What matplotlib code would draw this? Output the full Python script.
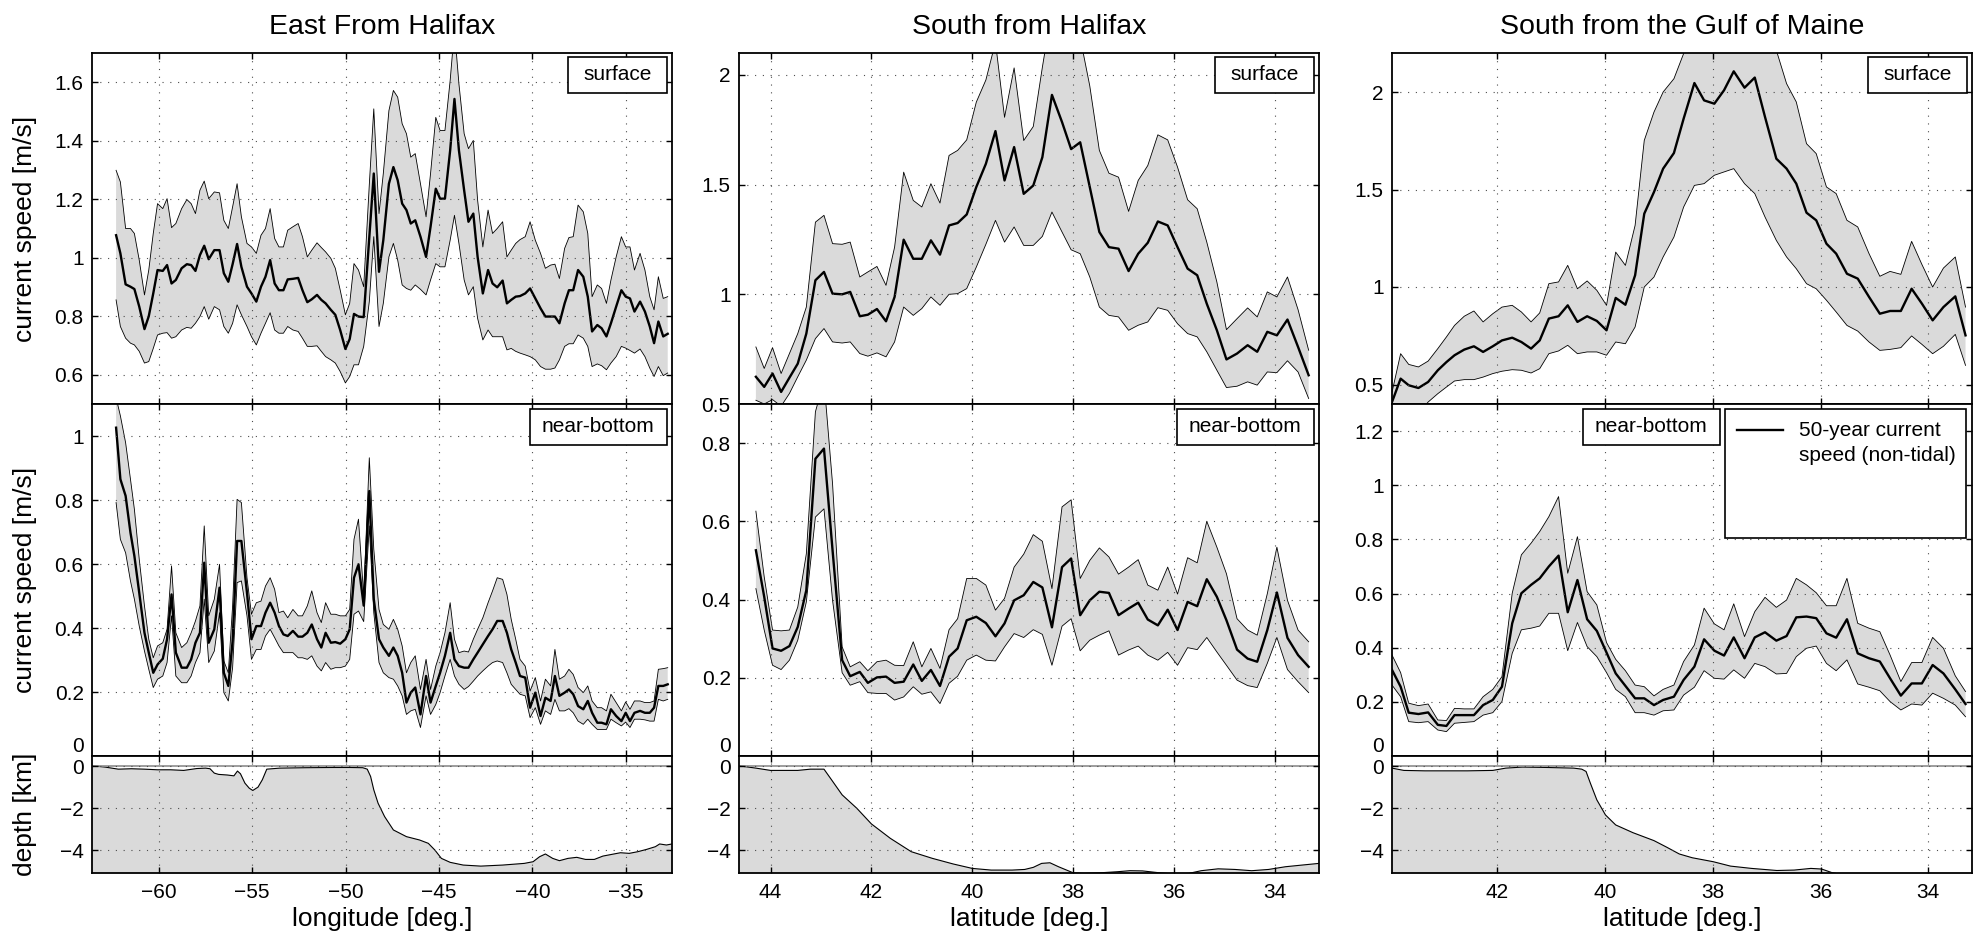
import matplotlib
matplotlib.use("Agg")
import matplotlib.pyplot as plt
from matplotlib.patches import Rectangle
from matplotlib.lines import Line2D

plt.rcParams['font.family'] = ['Liberation Sans', 'DejaVu Sans']
plt.rcParams['axes.unicode_minus'] = True

# ---------------------------------------------------------------- East from Halifax
lon_east = [
    -62.29, -62.06, -61.78, -61.52, -61.31, -61.05, -60.77, -60.54, -60.30, -60.07,
    -59.79, -59.56, -59.32, -59.09, -58.78, -58.50, -58.27, -58.04, -57.80, -57.57,
    -57.33, -57.03, -56.75, -56.52, -56.28, -56.05, -55.81, -55.58, -55.28, -55.04,
    -54.78, -54.53, -54.29, -54.04, -53.80, -53.57, -53.33, -53.10, -52.82, -52.54,
    -52.31, -52.05, -51.81, -51.53, -51.30, -51.07, -50.79, -50.55, -50.29, -50.01,
    -49.78, -49.55, -49.31, -49.03, -48.73, -48.49, -48.21, -47.98, -47.68, -47.44,
    -47.21, -46.97, -46.74, -46.51, -46.27, -45.99, -45.69, -45.45, -45.17, -44.94,
    -44.68, -44.40, -44.17, -43.93, -43.65, -43.42, -43.16, -42.93, -42.65, -42.37,
    -42.13, -41.88, -41.59, -41.36, -41.13, -40.89, -40.66, -40.38, -40.12, -39.84,
    -39.56, -39.30, -39.02, -38.79, -38.55, -38.27, -38.04, -37.81, -37.55, -37.27,
    -37.03, -36.80, -36.52, -36.29, -36.03, -35.79, -35.51, -35.23, -35.00, -34.77,
    -34.53, -34.23, -33.97, -33.71, -33.48, -33.25, -32.99, -32.75]

east_surf_mean = [
    1.077, 1.015, 0.909, 0.901, 0.893, 0.833, 0.756, 0.800, 0.878, 0.958,
    0.955, 0.975, 0.912, 0.924, 0.964, 0.978, 0.975, 0.955, 1.009, 1.041,
    0.995, 1.026, 1.026, 0.947, 0.918, 0.978, 1.047, 0.969, 0.901, 0.878,
    0.850, 0.901, 0.935, 0.992, 0.912, 0.889, 0.889, 0.926, 0.928, 0.931,
    0.889, 0.848, 0.858, 0.873, 0.856, 0.844, 0.822, 0.805, 0.753, 0.688,
    0.722, 0.808, 0.799, 0.797, 1.070, 1.288, 0.952, 1.060, 1.253, 1.310,
    1.265, 1.185, 1.163, 1.117, 1.128, 1.072, 1.003, 1.106, 1.236, 1.202,
    1.202, 1.367, 1.543, 1.367, 1.230, 1.123, 1.151, 1.003, 0.878, 0.958,
    0.912, 0.899, 0.922, 0.844, 0.856, 0.867, 0.869, 0.878, 0.895, 0.861,
    0.827, 0.799, 0.799, 0.799, 0.776, 0.844, 0.889, 0.889, 0.958, 0.935,
    0.867, 0.748, 0.770, 0.759, 0.731, 0.776, 0.833, 0.889, 0.867, 0.861,
    0.816, 0.850, 0.816, 0.765, 0.708, 0.782, 0.731, 0.740]
east_surf_hi = [
    1.299, 1.259, 1.100, 1.100, 1.083, 0.992, 0.873, 0.958, 1.083, 1.185,
    1.168, 1.202, 1.103, 1.117, 1.168, 1.199, 1.185, 1.151, 1.231, 1.262,
    1.202, 1.225, 1.222, 1.128, 1.100, 1.174, 1.253, 1.140, 1.049, 1.037,
    1.015, 1.077, 1.100, 1.168, 1.066, 1.037, 1.037, 1.094, 1.106, 1.117,
    1.072, 1.003, 1.026, 1.051, 1.035, 1.020, 0.998, 0.964, 0.890, 0.805,
    0.844, 0.980, 0.958, 0.901, 1.250, 1.509, 1.151, 1.288, 1.503, 1.572,
    1.549, 1.458, 1.424, 1.344, 1.356, 1.253, 1.140, 1.288, 1.480, 1.435,
    1.435, 1.606, 1.780, 1.594, 1.424, 1.373, 1.401, 1.197, 1.037, 1.163,
    1.083, 1.100, 1.123, 1.003, 1.026, 1.049, 1.062, 1.072, 1.123, 1.060,
    1.015, 0.964, 0.975, 0.978, 0.929, 1.032, 1.069, 1.072, 1.180, 1.157,
    1.083, 0.867, 0.907, 0.895, 0.844, 0.924, 1.003, 1.072, 1.037, 1.037,
    0.958, 1.015, 0.958, 0.867, 0.822, 0.935, 0.861, 0.867]
east_surf_lo = [
    0.856, 0.765, 0.725, 0.708, 0.702, 0.680, 0.640, 0.645, 0.690, 0.736,
    0.742, 0.744, 0.725, 0.730, 0.753, 0.762, 0.759, 0.776, 0.799, 0.833,
    0.790, 0.833, 0.822, 0.765, 0.742, 0.776, 0.839, 0.805, 0.765, 0.730,
    0.702, 0.742, 0.776, 0.812, 0.753, 0.742, 0.742, 0.765, 0.753, 0.748,
    0.725, 0.697, 0.697, 0.699, 0.680, 0.662, 0.651, 0.640, 0.611, 0.572,
    0.594, 0.634, 0.634, 0.697, 0.850, 1.072, 0.765, 0.844, 1.003, 1.049,
    0.992, 0.907, 0.895, 0.889, 0.907, 0.892, 0.873, 0.924, 0.980, 0.969,
    0.969, 1.060, 1.145, 1.049, 0.924, 0.873, 0.901, 0.793, 0.719, 0.753,
    0.730, 0.730, 0.730, 0.685, 0.690, 0.680, 0.674, 0.668, 0.662, 0.651,
    0.628, 0.619, 0.619, 0.623, 0.651, 0.697, 0.706, 0.706, 0.736, 0.725,
    0.697, 0.628, 0.637, 0.631, 0.617, 0.640, 0.662, 0.697, 0.691, 0.683,
    0.674, 0.688, 0.662, 0.623, 0.594, 0.628, 0.597, 0.606]

east_bot_mean = [
    1.026, 0.865, 0.813, 0.698, 0.625, 0.510, 0.385, 0.323, 0.260, 0.286,
    0.304, 0.365, 0.505, 0.323, 0.276, 0.276, 0.302, 0.354, 0.385, 0.604,
    0.354, 0.396, 0.526, 0.260, 0.219, 0.359, 0.672, 0.672, 0.510, 0.365,
    0.406, 0.406, 0.448, 0.479, 0.448, 0.406, 0.380, 0.375, 0.391, 0.373,
    0.373, 0.385, 0.411, 0.365, 0.339, 0.385, 0.354, 0.356, 0.351, 0.365,
    0.396, 0.557, 0.599, 0.470, 0.828, 0.490, 0.365, 0.339, 0.313, 0.339,
    0.313, 0.260, 0.167, 0.198, 0.214, 0.130, 0.250, 0.167, 0.219, 0.260,
    0.313, 0.385, 0.302, 0.281, 0.276, 0.276, 0.302, 0.323, 0.349, 0.375,
    0.396, 0.422, 0.422, 0.385, 0.333, 0.292, 0.250, 0.245, 0.151, 0.198,
    0.125, 0.182, 0.172, 0.250, 0.188, 0.198, 0.208, 0.193, 0.156, 0.146,
    0.172, 0.135, 0.104, 0.104, 0.099, 0.146, 0.125, 0.109, 0.135, 0.109,
    0.135, 0.141, 0.135, 0.135, 0.151, 0.219, 0.219, 0.224]
east_bot_hi = [
    1.120, 1.063, 0.979, 0.865, 0.771, 0.615, 0.469, 0.365, 0.307, 0.344,
    0.354, 0.396, 0.594, 0.385, 0.339, 0.354, 0.385, 0.422, 0.469, 0.719,
    0.438, 0.490, 0.599, 0.297, 0.260, 0.469, 0.802, 0.792, 0.557, 0.443,
    0.479, 0.484, 0.531, 0.557, 0.521, 0.448, 0.453, 0.432, 0.458, 0.438,
    0.438, 0.469, 0.516, 0.448, 0.417, 0.479, 0.443, 0.443, 0.438, 0.438,
    0.458, 0.677, 0.740, 0.500, 0.932, 0.646, 0.458, 0.411, 0.396, 0.427,
    0.396, 0.344, 0.260, 0.292, 0.313, 0.208, 0.302, 0.208, 0.281, 0.323,
    0.385, 0.479, 0.365, 0.323, 0.328, 0.325, 0.365, 0.396, 0.432, 0.479,
    0.516, 0.557, 0.552, 0.505, 0.427, 0.365, 0.302, 0.281, 0.203, 0.245,
    0.172, 0.240, 0.219, 0.333, 0.240, 0.250, 0.271, 0.255, 0.214, 0.198,
    0.219, 0.172, 0.151, 0.151, 0.141, 0.193, 0.167, 0.141, 0.169, 0.146,
    0.172, 0.172, 0.167, 0.167, 0.172, 0.271, 0.273, 0.276]
east_bot_lo = [
    0.792, 0.677, 0.635, 0.547, 0.490, 0.406, 0.328, 0.271, 0.214, 0.240,
    0.250, 0.292, 0.438, 0.250, 0.229, 0.229, 0.250, 0.292, 0.323, 0.490,
    0.292, 0.328, 0.448, 0.198, 0.172, 0.276, 0.542, 0.547, 0.438, 0.302,
    0.333, 0.333, 0.375, 0.396, 0.370, 0.344, 0.323, 0.323, 0.323, 0.307,
    0.307, 0.302, 0.313, 0.281, 0.266, 0.292, 0.271, 0.276, 0.276, 0.281,
    0.302, 0.443, 0.453, 0.420, 0.719, 0.448, 0.292, 0.260, 0.245, 0.240,
    0.219, 0.188, 0.130, 0.141, 0.146, 0.089, 0.188, 0.130, 0.161, 0.198,
    0.250, 0.302, 0.250, 0.224, 0.208, 0.217, 0.234, 0.250, 0.266, 0.281,
    0.292, 0.297, 0.292, 0.260, 0.224, 0.208, 0.193, 0.188, 0.120, 0.151,
    0.099, 0.141, 0.130, 0.177, 0.141, 0.141, 0.148, 0.135, 0.109, 0.099,
    0.115, 0.099, 0.083, 0.083, 0.083, 0.115, 0.104, 0.094, 0.106, 0.089,
    0.115, 0.115, 0.113, 0.109, 0.109, 0.177, 0.172, 0.177]

lon_east_topo = [
    -63.58, -62.88, -62.17, -61.47, -60.77, -60.07, -59.37, -58.67, -57.97, -57.50,
    -57.26, -57.03, -56.80, -56.33, -55.98, -55.79, -55.63, -55.39, -55.16, -54.97,
    -54.69, -54.46, -54.22, -53.52, -52.12, -50.72, -49.78, -49.08, -48.84, -48.66,
    -48.49, -48.26, -47.91, -47.44, -46.74, -46.04, -45.57, -45.22, -44.87, -44.40,
    -43.70, -42.76, -41.59, -40.43, -39.96, -39.61, -39.30, -38.91, -38.55, -38.09,
    -37.62, -37.15, -36.68, -36.22, -35.75, -35.28, -34.81, -34.35, -33.88, -33.41,
    -33.18, -32.82, -32.52]
east_depth = [
    0.03, -0.03, -0.13, -0.11, -0.13, -0.16, -0.16, -0.19, -0.10, -0.08,
    -0.11, -0.32, -0.38, -0.41, -0.45, -0.22, -0.35, -0.80, -1.04, -1.15,
    -0.99, -0.64, -0.13, -0.08, -0.06, -0.05, -0.05, -0.06, -0.13, -0.48,
    -1.12, -1.76, -2.40, -3.04, -3.36, -3.52, -3.68, -4.00, -4.40, -4.59,
    -4.72, -4.77, -4.72, -4.64, -4.56, -4.32, -4.19, -4.40, -4.51, -4.40,
    -4.35, -4.45, -4.45, -4.29, -4.21, -4.13, -4.16, -4.08, -3.97, -3.84,
    -3.71, -3.76, -3.71]

# ---------------------------------------------------------------- South from Halifax
lat_hfx = [
    44.29, 44.125, 43.96, 43.79, 43.625, 43.46, 43.29, 43.11, 42.94, 42.77,
    42.58, 42.42, 42.23, 42.07, 41.89, 41.71, 41.54, 41.36, 41.17, 41.00,
    40.82, 40.64, 40.46, 40.29, 40.11, 39.92, 39.73, 39.54, 39.36, 39.17,
    38.98, 38.79, 38.61, 38.42, 38.22, 38.04, 37.86, 37.67, 37.48, 37.29,
    37.10, 36.90, 36.71, 36.52, 36.32, 36.125, 35.93, 35.73, 35.54, 35.35,
    35.15, 34.96, 34.75, 34.54, 34.35, 34.15, 33.96, 33.75, 33.54, 33.33]

hfx_surf_mean = [
    0.624, 0.578, 0.639, 0.555, 0.620, 0.684, 0.821, 1.064, 1.102, 1.003,
    1.000, 1.011, 0.900, 0.907, 0.933, 0.877, 0.988, 1.249, 1.162, 1.162,
    1.246, 1.181, 1.314, 1.325, 1.364, 1.489, 1.595, 1.744, 1.519, 1.671,
    1.458, 1.496, 1.625, 1.909, 1.785, 1.662, 1.693, 1.489, 1.284, 1.215,
    1.208, 1.106, 1.185, 1.235, 1.332, 1.314, 1.215, 1.117, 1.087, 0.957,
    0.836, 0.703, 0.730, 0.768, 0.738, 0.829, 0.813, 0.885, 0.760, 0.631]
hfx_surf_hi = [
    0.760, 0.662, 0.757, 0.639, 0.730, 0.821, 0.942, 1.329, 1.360, 1.231,
    1.228, 1.238, 1.079, 1.102, 1.127, 1.041, 1.215, 1.557, 1.428, 1.398,
    1.504, 1.416, 1.633, 1.656, 1.704, 1.876, 1.977, 2.150, 1.807, 2.032,
    1.701, 1.765, 2.035, 2.300, 2.350, 2.300, 2.170, 1.950, 1.656, 1.552,
    1.534, 1.378, 1.519, 1.587, 1.727, 1.704, 1.580, 1.431, 1.390, 1.238,
    1.056, 0.839, 0.889, 0.938, 0.897, 1.011, 0.988, 1.079, 0.930, 0.745]
hfx_surf_lo = [
    0.517, 0.500, 0.520, 0.490, 0.548, 0.624, 0.700, 0.798, 0.844, 0.783,
    0.778, 0.783, 0.730, 0.718, 0.733, 0.715, 0.783, 0.942, 0.904, 0.935,
    0.988, 0.950, 1.000, 1.003, 1.026, 1.124, 1.228, 1.337, 1.238, 1.307,
    1.223, 1.223, 1.264, 1.375, 1.284, 1.203, 1.185, 1.079, 0.942, 0.904,
    0.897, 0.836, 0.859, 0.874, 0.939, 0.927, 0.866, 0.821, 0.806, 0.738,
    0.654, 0.575, 0.581, 0.601, 0.586, 0.646, 0.643, 0.697, 0.646, 0.525]

hfx_bot_mean = [
    0.526, 0.407, 0.275, 0.269, 0.281, 0.330, 0.424, 0.760, 0.786, 0.526,
    0.245, 0.204, 0.215, 0.187, 0.201, 0.203, 0.187, 0.190, 0.234, 0.192,
    0.220, 0.179, 0.254, 0.275, 0.347, 0.356, 0.340, 0.306, 0.339, 0.398,
    0.411, 0.445, 0.431, 0.329, 0.483, 0.505, 0.360, 0.398, 0.420, 0.417,
    0.360, 0.377, 0.392, 0.349, 0.334, 0.374, 0.322, 0.394, 0.383, 0.452,
    0.407, 0.347, 0.272, 0.249, 0.241, 0.322, 0.418, 0.302, 0.258, 0.228]
hfx_bot_hi = [
    0.626, 0.458, 0.322, 0.320, 0.322, 0.381, 0.517, 0.880, 0.960, 0.696,
    0.279, 0.228, 0.241, 0.218, 0.241, 0.245, 0.232, 0.231, 0.292, 0.228,
    0.275, 0.224, 0.323, 0.351, 0.454, 0.454, 0.437, 0.373, 0.403, 0.483,
    0.516, 0.566, 0.549, 0.428, 0.637, 0.655, 0.454, 0.500, 0.532, 0.509,
    0.465, 0.483, 0.502, 0.437, 0.424, 0.483, 0.414, 0.507, 0.494, 0.600,
    0.534, 0.466, 0.351, 0.322, 0.309, 0.415, 0.534, 0.398, 0.322, 0.292]
hfx_bot_lo = [
    0.428, 0.322, 0.232, 0.221, 0.245, 0.296, 0.394, 0.611, 0.632, 0.398,
    0.213, 0.181, 0.190, 0.162, 0.160, 0.160, 0.143, 0.151, 0.177, 0.158,
    0.164, 0.134, 0.186, 0.204, 0.245, 0.258, 0.245, 0.243, 0.279, 0.313,
    0.303, 0.323, 0.311, 0.232, 0.332, 0.351, 0.269, 0.296, 0.309, 0.320,
    0.258, 0.271, 0.281, 0.258, 0.245, 0.265, 0.232, 0.277, 0.272, 0.303,
    0.266, 0.232, 0.194, 0.180, 0.175, 0.237, 0.303, 0.221, 0.190, 0.162]

lat_hfx_topo = [
    44.625, 44.29, 44.00, 43.71, 43.46, 43.21, 42.94, 42.79, 42.58, 42.29,
    42.00, 41.625, 41.21, 40.79, 40.375, 40.00, 39.625, 39.21, 38.96, 38.79,
    38.625, 38.46, 38.29, 38.00, 37.79, 37.46, 37.125, 36.875, 36.625, 36.29,
    36.00, 35.71, 35.46, 35.125, 34.79, 34.46, 34.125, 33.79, 33.46, 33.125]
hfx_depth = [
    0.03, -0.08, -0.19, -0.19, -0.19, -0.13, -0.13, -0.64, -1.36, -2.00,
    -2.75, -3.44, -4.08, -4.40, -4.67, -4.88, -4.96, -4.96, -4.93, -4.83,
    -4.64, -4.61, -4.80, -5.09, -5.12, -5.09, -5.04, -4.99, -5.00, -5.09,
    -5.15, -5.12, -4.99, -4.90, -4.93, -4.99, -4.93, -4.80, -4.72, -4.64]

# ---------------------------------------------------------------- South from the Gulf of Maine
lat_gom = [
    43.95, 43.79, 43.64, 43.46, 43.28, 43.10, 42.94, 42.79, 42.61, 42.43,
    42.26, 42.08, 41.91, 41.72, 41.55, 41.37, 41.21, 41.04, 40.86, 40.69,
    40.51, 40.33, 40.15, 39.97, 39.80, 39.62, 39.44, 39.27, 39.09, 38.92,
    38.72, 38.54, 38.34, 38.16, 37.97, 37.79, 37.61, 37.41, 37.22, 37.03,
    36.82, 36.63, 36.45, 36.26, 36.08, 35.89, 35.71, 35.51, 35.31, 35.10,
    34.90, 34.71, 34.51, 34.31, 34.12, 33.92, 33.72, 33.50, 33.31]

gom_surf_mean = [
    0.410, 0.530, 0.496, 0.482, 0.513, 0.573, 0.615, 0.650, 0.679, 0.696,
    0.667, 0.696, 0.726, 0.740, 0.718, 0.684, 0.726, 0.838, 0.850, 0.906,
    0.821, 0.850, 0.826, 0.778, 0.944, 0.909, 1.060, 1.376, 1.487, 1.607,
    1.687, 1.863, 2.046, 1.957, 1.940, 2.009, 2.106, 2.022, 2.074, 1.872,
    1.658, 1.607, 1.530, 1.381, 1.342, 1.222, 1.171, 1.068, 1.043, 0.949,
    0.863, 0.877, 0.877, 0.991, 0.915, 0.829, 0.897, 0.952, 0.752]
gom_surf_hi = [
    0.460, 0.658, 0.603, 0.590, 0.620, 0.684, 0.744, 0.803, 0.850, 0.877,
    0.821, 0.863, 0.897, 0.906, 0.872, 0.821, 0.867, 1.017, 1.026, 1.111,
    0.991, 1.031, 0.983, 0.906, 1.179, 1.111, 1.316, 1.752, 1.897, 2.000,
    2.068, 2.197, 2.350, 2.450, 2.500, 2.500, 2.550, 2.500, 2.450, 2.350,
    2.214, 2.043, 1.949, 1.735, 1.684, 1.513, 1.479, 1.342, 1.308, 1.171,
    1.055, 1.080, 1.065, 1.234, 1.116, 1.000, 1.097, 1.154, 0.897]
gom_surf_lo = [
    0.380, 0.388, 0.368, 0.350, 0.410, 0.453, 0.487, 0.518, 0.525, 0.525,
    0.538, 0.556, 0.568, 0.576, 0.573, 0.559, 0.581, 0.658, 0.672, 0.701,
    0.658, 0.667, 0.667, 0.650, 0.718, 0.709, 0.795, 1.000, 1.051, 1.154,
    1.256, 1.410, 1.521, 1.530, 1.573, 1.590, 1.607, 1.530, 1.479, 1.359,
    1.239, 1.154, 1.094, 1.017, 0.991, 0.932, 0.872, 0.803, 0.774, 0.718,
    0.675, 0.680, 0.689, 0.749, 0.706, 0.658, 0.696, 0.757, 0.598]

gom_bot_mean = [
    0.318, 0.256, 0.160, 0.155, 0.161, 0.115, 0.111, 0.151, 0.151, 0.151,
    0.188, 0.207, 0.256, 0.490, 0.601, 0.632, 0.656, 0.700, 0.740, 0.531,
    0.650, 0.505, 0.462, 0.382, 0.305, 0.259, 0.213, 0.213, 0.188, 0.207,
    0.219, 0.281, 0.330, 0.431, 0.389, 0.371, 0.438, 0.361, 0.438, 0.457,
    0.426, 0.443, 0.512, 0.515, 0.509, 0.453, 0.437, 0.505, 0.379, 0.361,
    0.349, 0.287, 0.223, 0.268, 0.268, 0.336, 0.305, 0.246, 0.192]
gom_bot_hi = [
    0.373, 0.308, 0.195, 0.186, 0.192, 0.133, 0.131, 0.176, 0.174, 0.174,
    0.219, 0.246, 0.293, 0.601, 0.743, 0.786, 0.829, 0.884, 0.958, 0.675,
    0.810, 0.607, 0.558, 0.419, 0.357, 0.315, 0.262, 0.256, 0.222, 0.246,
    0.262, 0.349, 0.410, 0.546, 0.488, 0.466, 0.562, 0.441, 0.533, 0.586,
    0.549, 0.576, 0.656, 0.632, 0.603, 0.555, 0.555, 0.656, 0.490, 0.472,
    0.459, 0.373, 0.275, 0.345, 0.345, 0.438, 0.398, 0.296, 0.238]
gom_bot_lo = [
    0.262, 0.219, 0.127, 0.123, 0.127, 0.096, 0.090, 0.121, 0.124, 0.127,
    0.151, 0.160, 0.201, 0.379, 0.466, 0.472, 0.480, 0.527, 0.527, 0.389,
    0.493, 0.404, 0.367, 0.308, 0.246, 0.219, 0.160, 0.160, 0.151, 0.167,
    0.170, 0.225, 0.254, 0.315, 0.287, 0.284, 0.318, 0.287, 0.342, 0.330,
    0.303, 0.305, 0.367, 0.398, 0.406, 0.342, 0.315, 0.355, 0.266, 0.254,
    0.241, 0.201, 0.170, 0.192, 0.188, 0.232, 0.213, 0.188, 0.145]

lat_gom_topo = [
    43.95, 43.73, 43.34, 42.94, 42.55, 42.08, 41.84, 41.53, 41.06, 40.58,
    40.43, 40.35, 40.27, 40.15, 39.99, 39.80, 39.48, 39.09, 38.85, 38.62,
    38.38, 37.99, 37.67, 37.28, 36.81, 36.49, 36.18, 35.98, 35.78, 35.55,
    35.08, 34.29, 33.19]
gom_depth = [
    -0.08, -0.19, -0.21, -0.21, -0.21, -0.19, -0.08, -0.03, -0.05, -0.08,
    -0.13, -0.24, -0.80, -1.60, -2.32, -2.80, -3.17, -3.55, -3.87, -4.19,
    -4.37, -4.56, -4.77, -4.88, -4.98, -4.96, -4.88, -4.91, -5.09, -5.20,
    -5.36, -5.44, -5.44]

# ---------------------------------------------------------------- labels / ticks
titles = ['East From Halifax', 'South from Halifax', 'South from the Gulf of Maine']
xlabels = ['longitude [deg.]', 'latitude [deg.]', 'latitude [deg.]']
x_limits = [(-63.58, -32.52), (44.625, 33.125), (43.95, 33.19)]
x_ticks = [[-60, -55, -50, -45, -40, -35], [44, 42, 40, 38, 36, 34], [42, 40, 38, 36, 34]]
surf_limits = [(0.5, 1.7), (0.5, 2.1), (0.4, 2.2)]
surf_ticks = [[0.6, 0.8, 1.0, 1.2, 1.4, 1.6], [0.5, 1.0, 1.5, 2.0], [0.5, 1.0, 1.5, 2.0]]
bot_limits = [(0.0, 1.1), (0.0, 0.9), (0.0, 1.3)]
bot_ticks = [[0, 0.2, 0.4, 0.6, 0.8, 1.0], [0, 0.2, 0.4, 0.6, 0.8],
             [0, 0.2, 0.4, 0.6, 0.8, 1.0, 1.2]]
depth_limits = (-5.1, 0.5)
depth_ticks = [-4, -2, 0]
legend_text = ['50-year current', 'speed (non-tidal)']

sections = [
    (lon_east, east_surf_lo, east_surf_hi, east_surf_mean,
     east_bot_lo, east_bot_hi, east_bot_mean, lon_east_topo, east_depth),
    (lat_hfx, hfx_surf_lo, hfx_surf_hi, hfx_surf_mean,
     hfx_bot_lo, hfx_bot_hi, hfx_bot_mean, lat_hfx_topo, hfx_depth),
    (lat_gom, gom_surf_lo, gom_surf_hi, gom_surf_mean,
     gom_bot_lo, gom_bot_hi, gom_bot_mean, lat_gom_topo, gom_depth),
]

# ---------------------------------------------------------------- drawing
FILL = '#dadada'
TICK_FS = 15
W, H = 1980, 941
col_left = [92, 739, 1392]
col_w = 580
ROW_SURF, ROW_BOT, ROW_DEP = (53, 404), (404, 756), (756, 873)

fig = plt.figure(figsize=(W / 100, H / 100), dpi=100)


def make_axes(left, rows):
    top, bottom = rows
    return fig.add_axes([left / W, 1 - bottom / H, col_w / W, (bottom - top) / H])


def num(v):
    return f'{v:g}'.replace('-', '\u2212')


def style(ax, xlim, xticks, ylim, yticks, show_x):
    ax.set_xlim(*xlim)
    ax.set_ylim(*ylim)
    ax.set_xticks(xticks)
    ax.set_yticks(yticks)
    ax.set_yticklabels([num(v) for v in yticks])
    ax.set_xticklabels([num(v) for v in xticks])
    ax.set_axisbelow(False)
    ax.grid(True, linestyle=(0, (1, 6)), color='0.3', linewidth=0.8)
    ax.tick_params(direction='in', length=4, width=1, top=True, right=True,
                   labelsize=TICK_FS, pad=6, labelbottom=show_x)
    for s in ax.spines.values():
        s.set_linewidth(1.3)
        s.set_zorder(4)


def band(ax, x, lo, hi, mid):
    ax.fill_between(x, lo, hi, facecolor=FILL, edgecolor='none', zorder=1)
    ax.plot(x, hi, color='k', lw=0.6, zorder=1.5)
    ax.plot(x, lo, color='k', lw=0.6, zorder=1.5)
    ax.plot(x, mid, color='k', lw=1.7, zorder=2)


def tag(ax, x0, x1, y0, y1, text):
    ax.add_patch(Rectangle((x0, y0), x1 - x0, y1 - y0, transform=ax.transAxes,
                           facecolor='white', edgecolor='k', lw=1.2, zorder=5))
    ax.text((x0 + x1) / 2, (y0 + y1) / 2, text, transform=ax.transAxes,
            ha='center', va='center', fontsize=TICK_FS, zorder=6)


for i, sec in enumerate(sections):
    x, s_lo, s_hi, s_mid, b_lo, b_hi, b_mid, xt, dep = sec

    ax_s = make_axes(col_left[i], ROW_SURF)
    band(ax_s, x, s_lo, s_hi, s_mid)
    style(ax_s, x_limits[i], x_ticks[i], surf_limits[i], surf_ticks[i], False)
    ax_s.set_title(titles[i], fontsize=20.5, pad=14)
    tag(ax_s, 0.821, 0.991, 0.886, 0.989, 'surface')

    ax_b = make_axes(col_left[i], ROW_BOT)
    band(ax_b, x, b_lo, b_hi, b_mid)
    style(ax_b, x_limits[i], x_ticks[i], bot_limits[i], bot_ticks[i], False)
    for lbl in ax_b.get_yticklabels():
        if lbl.get_text() == '0':
            lbl.set_verticalalignment('bottom')
    if i < 2:
        tag(ax_b, 0.755, 0.991, 0.884, 0.986, 'near-bottom')
    else:
        tag(ax_b, 0.329, 0.565, 0.884, 0.986, 'near-bottom')
        ax_b.add_patch(Rectangle((0.574, 0.619), 0.416, 0.367, transform=ax_b.transAxes,
                                 facecolor='white', edgecolor='k', lw=1.2, zorder=5))
        ax_b.add_line(Line2D([0.595, 0.674], [0.926, 0.926], transform=ax_b.transAxes,
                             color='k', lw=1.7, zorder=6))
        ax_b.text(0.702, 0.926, legend_text[0], transform=ax_b.transAxes,
                  ha='left', va='center', fontsize=TICK_FS, zorder=6)
        ax_b.text(0.702, 0.855, legend_text[1], transform=ax_b.transAxes,
                  ha='left', va='center', fontsize=TICK_FS, zorder=6)

    ax_d = make_axes(col_left[i], ROW_DEP)
    ax_d.fill_between(xt, dep, -10, facecolor=FILL, edgecolor='none', zorder=1)
    ax_d.plot(xt, dep, color='k', lw=0.8, zorder=2)
    ax_d.axhline(0, color='0.55', lw=1.2, zorder=2)
    style(ax_d, x_limits[i], x_ticks[i], depth_limits, depth_ticks, True)
    ax_d.tick_params(axis='x', pad=7)
    ax_d.set_xlabel(xlabels[i], fontsize=19, labelpad=4)

# shared y labels for the left column
fig.text(25 / W, 1 - (ROW_SURF[0] + ROW_SURF[1]) / 2 / H, 'current speed [m/s]',
         rotation=90, ha='center', va='center', fontsize=19)
fig.text(25 / W, 1 - (ROW_BOT[0] + ROW_BOT[1]) / 2 / H, 'current speed [m/s]',
         rotation=90, ha='center', va='center', fontsize=19)
fig.text(25 / W, 1 - (ROW_DEP[0] + ROW_DEP[1]) / 2 / H, 'depth [km]',
         rotation=90, ha='center', va='center', fontsize=19)

fig.savefig('out.png', dpi=100)
